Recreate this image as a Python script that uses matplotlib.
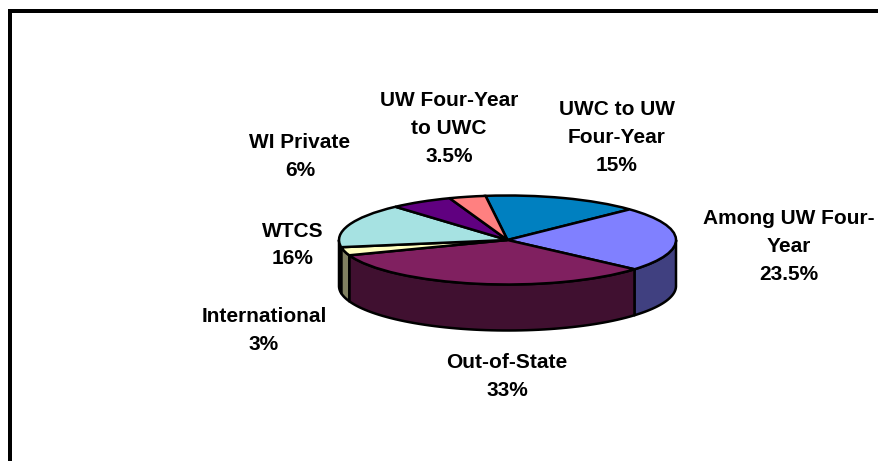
import numpy as np
import matplotlib
matplotlib.use("Agg")
import matplotlib.pyplot as plt
from matplotlib.lines import Line2D

labels = ["UWC to UW\nFour-Year\n15%", "Among UW Four-\nYear\n23.5%", "Out-of-State\n33%",
          "International\n3%", "WTCS\n16%", "WI Private\n6%", "UW Four-Year\nto UWC\n3.5%"]
values = [15, 23.5, 33, 3, 16, 6, 3.5]
colors = ["#0080C0", "#8080FF", "#802060", "#FFFFC0", "#A6E2E2", "#600080", "#FF8080"]
sides = ["#004060", "#404080", "#401030", "#808060", "#507070", "#300040", "#804040"]
label_x = [617, 789, 507, 264, 293, 300, 449]
label_y = [137, 246, 376, 330, 245, 156, 129]

W, H = 879, 461
start = 97.5
cx, cy, rx, ry, depth = 507.5, 240, 168.5, 44.5, 46

plt.rcParams['font.family'] = ['Liberation Sans', 'DejaVu Sans']
fig = plt.figure(figsize=(W/100, H/100), dpi=100)
ax = fig.add_axes([(cx-rx)/W, 1-(cy+ry)/H, 2*rx/W, 2*ry/H])
d = depth/ry

# side wall first, only the front half of the pie shows
a0 = start
for v, sc in zip(values, sides):
    a1 = a0 - v*3.6
    lo, hi = max(a1, -180), min(a0, 0)
    if hi > lo:
        t = np.radians(np.linspace(hi, lo, 60))
        xs = np.concatenate([np.cos(t), np.cos(t[::-1])])
        ys = np.concatenate([np.sin(t), np.sin(t[::-1])-d])
        ax.fill(xs, ys, facecolor=sc, edgecolor="black", lw=1.8, clip_on=False, joinstyle="round")
    a0 = a1

ax.pie(values, colors=colors, startangle=start, counterclock=False,
       wedgeprops=dict(edgecolor="black", linewidth=1.8))
ax.set_aspect("auto")
ax.set_xlim(-1, 1)
ax.set_ylim(-1, 1)

for s, x, y in zip(labels, label_x, label_y):
    fig.text(x/W, 1-y/H, s, ha="center", va="center", fontsize=15,
             fontweight="bold", linespacing=1.6, color="black")

fig.add_artist(Line2D([10/W, 10/W], [-0.01, 1-11/H], color="black", lw=2.88, solid_capstyle="butt"))
fig.add_artist(Line2D([8/W, 1.01], [1-11/H, 1-11/H], color="black", lw=2.88, solid_capstyle="butt"))

fig.savefig("out.png", dpi=100)
